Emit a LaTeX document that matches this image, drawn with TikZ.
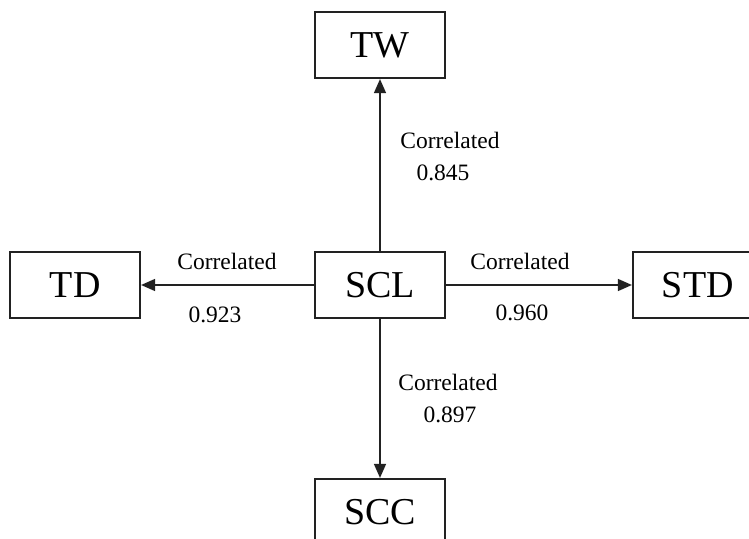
\documentclass[tikz,border=0pt]{standalone}
\usepackage{fontspec}
\setmainfont{Liberation Serif}
\usetikzlibrary{arrows.meta, positioning}
\definecolor{lineblack}{HTML}{222222}

\begin{document}
\begin{tikzpicture}[
    x=1pt, y=-1pt,
    node distance=174pt and 173pt,
    box/.style={
        draw=lineblack, line width=1.8pt, fill=white,
        rectangle, inner sep=0pt,
        minimum width=130pt, minimum height=66pt,
        font=\fontsize{38}{40}\selectfont,
    },
    corr/.style={font=\fontsize{23.5}{25}\selectfont, inner sep=0pt},
    link/.style={draw=lineblack, line width=1.4pt, -{Triangle[length=14pt, width=12pt]}},
]
\useasboundingbox (0,0) rectangle (749,538);

% Boxes
\node[box] (scl) at (380,285) {SCL};
\node[box, above=172pt of scl] (tw) {TW};
\node[box, left=173pt of scl] (td) {TD};
\node[box, right=186pt of scl] (std) {STD};
\node[box, below=159pt of scl] (scc) {SCC};

% Links
\draw[link] (scl) -- (tw);
\draw[link] (scl) -- (td);
\draw[link] (scl) -- (std);
\draw[link] (scl) -- (scc);

% Labels
\node[corr] (twc) at (450,140) {Correlated};
\node[corr] (twv) at (443,173) {0.845};
\node[corr] (tdc) at (227,261) {Correlated};
\node[corr] (tdv) at (215,315) {0.923};
\node[corr] (stdc) at (520,261) {Correlated};
\node[corr] (stdv) at (522,313) {0.960};
\node[corr] (sccc) at (448,382) {Correlated};
\node[corr] (sccv) at (450,415) {0.897};

\end{tikzpicture}
\end{document}
